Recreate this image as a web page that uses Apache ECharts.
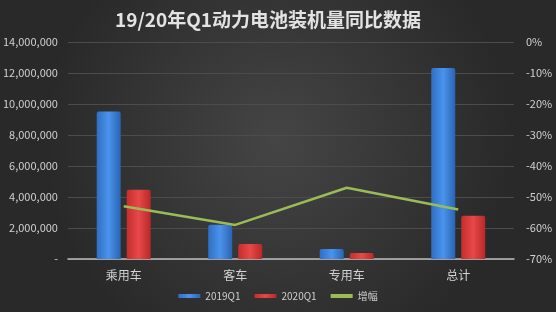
<!DOCTYPE html>
<html><head><meta charset="utf-8">
<script src="https://cdn.jsdelivr.net/npm/echarts@6/dist/echarts.min.js"></script>
<style>html,body{margin:0;padding:0;background:#2e2e2e}#c{width:556px;height:312px}</style>
</head><body><div id="c"></div>
<script>
const categories = ['乘用车', '客车', '专用车', '总计'];
const values2019 = [9520000, 2210000, 650000, 12320000];
const values2020 = [4470000, 970000, 390000, 2790000];
const growth = [-53, -59, -47, -54];
const leftTicks = [0, 2000000, 4000000, 6000000, 8000000, 10000000, 12000000, 14000000];
const rightTicks = [-70, -60, -50, -40, -30, -20, -10, 0];

const chart = echarts.init(document.getElementById('c'), null, {renderer: 'canvas'});
const font = '"Noto Sans CJK SC", "Liberation Sans", sans-serif';
const barGrad = (a, b, c) => new echarts.graphic.LinearGradient(0, 0, 1, 0, [
  {offset: 0, color: a}, {offset: 0.5, color: b}, {offset: 1, color: c}]);
chart.setOption({
  animation: false,
  backgroundColor: new echarts.graphic.RadialGradient(0.5, 0.45, 0.75, [
    {offset: 0, color: '#454545'}, {offset: 1, color: '#292929'}]),
  title: {
    text: '19/20年Q1动力电池装机量同比数据',
    left: 110, top: 5,
    textStyle: {color: '#e3e3e3', fontSize: 19, fontWeight: 'bold', fontFamily: font}
  },
  legend: {
    bottom: 6, left: 'center', itemWidth: 22, itemHeight: 4, itemGap: 14,
    textStyle: {color: '#cfcfcf', fontSize: 10, fontFamily: font},
    data: [
      {name: '2019Q1', icon: 'rect'},
      {name: '2020Q1', icon: 'rect'},
      {name: '增幅', icon: 'rect'}
    ]
  },
  grid: {left: 67, right: 42, top: 42, bottom: 53},
  xAxis: {
    type: 'category', data: categories,
    axisLine: {lineStyle: {color: '#bdbdbd', width: 1.5}},
    axisTick: {show: false},
    axisLabel: {color: '#d4d4d4', fontSize: 12, fontFamily: font, margin: 10}
  },
  yAxis: [{
    type: 'value', min: leftTicks[0], max: leftTicks[leftTicks.length - 1], interval: 2000000,
    axisLine: {show: false}, axisTick: {show: false},
    splitLine: {lineStyle: {color: '#4c4c4c', width: 1}},
    axisLabel: {color: '#d0d0d0', fontSize: 11, fontFamily: font, margin: 10,
      formatter: v => v === 0 ? '-' : v.toLocaleString('en-US')}
  }, {
    type: 'value', min: rightTicks[0], max: rightTicks[rightTicks.length - 1], interval: 10,
    axisLine: {show: false}, axisTick: {show: false}, splitLine: {show: false},
    axisLabel: {color: '#d0d0d0', fontSize: 11, fontFamily: font, margin: 12,
      formatter: v => v + '%'}
  }],
  series: [{
    name: '2019Q1', type: 'bar', data: values2019, barWidth: 24, barGap: '25%',
    itemStyle: {color: barGrad('#2f6fc4', '#4a93ec', '#2a64b3'), borderRadius: [2, 2, 0, 0]}
  }, {
    name: '2020Q1', type: 'bar', data: values2020, barWidth: 24,
    itemStyle: {color: barGrad('#c42e2e', '#e84848', '#b82828'), borderRadius: [2, 2, 0, 0]}
  }, {
    name: '增幅', type: 'line', yAxisIndex: 1, data: growth,
    symbol: 'none', lineStyle: {color: '#9bbb59', width: 2.5},
    itemStyle: {color: '#9bbb59'}
  }]
});
</script></body></html>
